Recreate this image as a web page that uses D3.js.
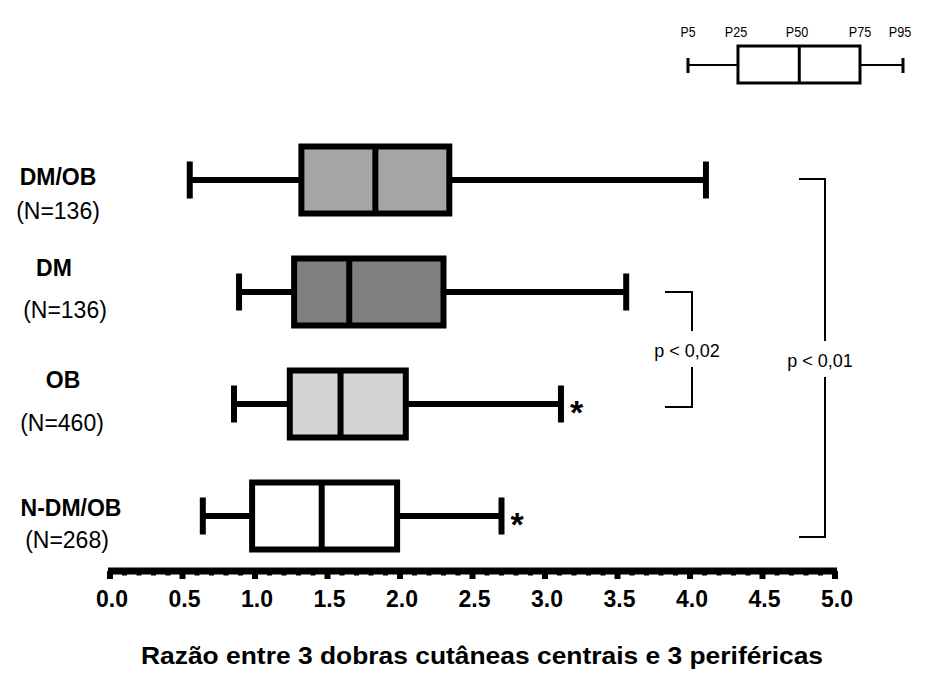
<!DOCTYPE html>
<html>
<head>
<meta charset="utf-8">
<script src="https://cdn.jsdelivr.net/npm/d3@7"></script>
<style>
  body { margin: 0; background: #fff; }
  text { font-family: "Liberation Sans", Arial, sans-serif; }
</style>
</head>
<body>
<script>
let width = 930;
let height = 689;

// groups (top to bottom)
let groups = ["DM/OB", "DM", "OB", "N-DM/OB"];
let counts = ["(N=136)", "(N=136)", "(N=460)", "(N=268)"];
let fills = ["#a6a6a6", "#808080", "#d3d3d3", "#ffffff"];
// percentiles
let p5 = [0.55, 0.89, 0.855, 0.64];
let p25 = [1.32, 1.27, 1.24, 0.98];
let p50 = [1.83, 1.65, 1.59, 1.46];
let p75 = [2.34, 2.30, 2.04, 1.98];
let p95 = [4.11, 3.56, 3.11, 2.70];
let starred = [false, false, true, true];

let xTicks = d3.range(0, 5.01, 0.5);
let legendLabels = ["P5", "P25", "P50", "P75", "P95"];

let svg = d3.select("body").append("svg")
  .attr("width", width)
  .attr("height", height);

let x = d3.scaleLinear().domain([0, 5]).range([110, 835]);
let y = d3.scalePoint().domain(groups).range([180, 516]);

let boxH = 67;
let capH = 37;

let data = groups.map((g, i) => ({
  g, n: counts[i], fill: fills[i],
  lo: p5[i], q1: p25[i], med: p50[i], q3: p75[i], hi: p95[i], star: starred[i]
}));

let rows = svg.append("g").selectAll("g").data(data).join("g")
  .attr("transform", d => `translate(0,${y(d.g)})`);

// whiskers
rows.append("line")
  .attr("x1", d => x(d.lo)).attr("x2", d => x(d.q1))
  .attr("stroke", "#000").attr("stroke-width", 6);
rows.append("line")
  .attr("x1", d => x(d.q3)).attr("x2", d => x(d.hi))
  .attr("stroke", "#000").attr("stroke-width", 6);
rows.append("line")
  .attr("x1", d => x(d.lo)).attr("x2", d => x(d.lo))
  .attr("y1", -capH / 2).attr("y2", capH / 2)
  .attr("stroke", "#000").attr("stroke-width", 6);
rows.append("line")
  .attr("x1", d => x(d.hi)).attr("x2", d => x(d.hi))
  .attr("y1", -capH / 2).attr("y2", capH / 2)
  .attr("stroke", "#000").attr("stroke-width", 6);

// boxes
rows.append("rect")
  .attr("x", d => x(d.q1)).attr("y", -boxH / 2)
  .attr("width", d => x(d.q3) - x(d.q1)).attr("height", boxH)
  .attr("fill", d => d.fill).attr("stroke", "#000").attr("stroke-width", 6);
rows.append("line")
  .attr("x1", d => x(d.med)).attr("x2", d => x(d.med))
  .attr("y1", -boxH / 2).attr("y2", boxH / 2)
  .attr("stroke", "#000").attr("stroke-width", 6);

// asterisks
rows.filter(d => d.star).append("text")
  .attr("x", d => x(d.hi) + 9).attr("y", 20)
  .style("font-size", "34px").style("font-weight", "bold")
  .text("*");

// group labels
let labelX = [58, 54, 63, 71];
let countX = [58, 65, 62, 67];
let labelDy = [-3, -24, -24, -8];
let countDy = [31, 18, 19, 24];
rows.append("text")
  .attr("x", (d, i) => labelX[i]).attr("y", (d, i) => labelDy[i] + 8)
  .attr("text-anchor", "middle")
  .style("font-size", "23px").style("font-weight", "bold")
  .text(d => d.g);
rows.append("text")
  .attr("x", (d, i) => countX[i]).attr("y", (d, i) => countDy[i] + 8)
  .attr("text-anchor", "middle")
  .style("font-size", "23px")
  .text(d => d.n);

// x axis
let axisY = 571;
let axis = svg.append("g").attr("transform", `translate(0,${axisY})`);
axis.append("line")
  .attr("x1", x(0) - 2).attr("x2", x(5) + 2)
  .attr("stroke", "#000").attr("stroke-width", 7);
axis.selectAll(".minor").data(d3.range(0, 5.01, 0.1)).join("line")
  .attr("x1", d => x(d)).attr("x2", d => x(d))
  .attr("y1", 0).attr("y2", 4.5)
  .attr("stroke", "#000").attr("stroke-width", 5);
axis.selectAll(".major").data(xTicks).join("line")
  .attr("x1", d => x(d)).attr("x2", d => x(d))
  .attr("y1", 0).attr("y2", 8)
  .attr("stroke", "#000").attr("stroke-width", 6);
axis.selectAll(".tl").data(xTicks).join("text")
  .attr("x", d => x(d) + 2).attr("y", 36)
  .attr("text-anchor", "middle")
  .style("font-size", "23px").style("font-weight", "bold")
  .text(d => d3.format(".1f")(d));

svg.append("text")
  .attr("x", 482).attr("y", 664)
  .attr("text-anchor", "middle")
  .style("font-size", "24px").style("font-weight", "bold")
  .attr("textLength", 682)
  .attr("lengthAdjust", "spacingAndGlyphs")
  .text("Razão entre 3 dobras cutâneas centrais e 3 periféricas");

// significance brackets
function bracket(xl, xr, y1, y2, label, ty) {
  let g = svg.append("g");
  g.append("path")
    .attr("d", `M${xl},${y1}H${xr}V${ty - 20}M${xr},${ty + 16}V${y2}H${xl}`)
    .attr("fill", "none").attr("stroke", "#000").attr("stroke-width", 2);
  g.append("text")
    .attr("x", xr - 5).attr("y", ty + 6)
    .attr("text-anchor", "middle")
    .style("font-size", "18px")
    .text(label);
}
bracket(665, 692, y("DM"), y("OB") + 3, "p < 0,02", 351);
bracket(799, 825, y("DM/OB") - 1, y("N-DM/OB") + 21, "p < 0,01", 361);

// legend box
let lx = d3.scaleLinear().domain([0, 4]).range([688, 903]);
let legendPos = [0, 0.93, 2.07, 3.2, 4];
let leg = svg.append("g").attr("transform", "translate(0,65)");
leg.append("line").attr("x1", lx(0)).attr("x2", lx(legendPos[1]))
  .attr("stroke", "#000").attr("stroke-width", 2);
leg.append("line").attr("x1", lx(legendPos[3])).attr("x2", lx(4))
  .attr("stroke", "#000").attr("stroke-width", 2);
leg.selectAll(".cap").data([0, 4]).join("line")
  .attr("x1", d => lx(d)).attr("x2", d => lx(d))
  .attr("y1", -7).attr("y2", 8)
  .attr("stroke", "#000").attr("stroke-width", 3);
leg.append("rect")
  .attr("x", lx(legendPos[1])).attr("y", -19)
  .attr("width", lx(legendPos[3]) - lx(legendPos[1])).attr("height", 37)
  .attr("fill", "#fff").attr("stroke", "#000").attr("stroke-width", 3);
leg.append("line").attr("x1", lx(legendPos[2])).attr("x2", lx(legendPos[2]))
  .attr("y1", -19).attr("y2", 18)
  .attr("stroke", "#000").attr("stroke-width", 3);
let legTextX = [688, 736, 797, 860, 900];
svg.selectAll(".lt").data(legendLabels).join("text")
  .attr("x", (d, i) => legTextX[i]).attr("y", 37)
  .attr("text-anchor", "middle")
  .style("font-size", "14px")
  .attr("textLength", (d, i) => d.length * 7.5)
  .attr("lengthAdjust", "spacingAndGlyphs")
  .text(d => d);
</script>
</body>
</html>
